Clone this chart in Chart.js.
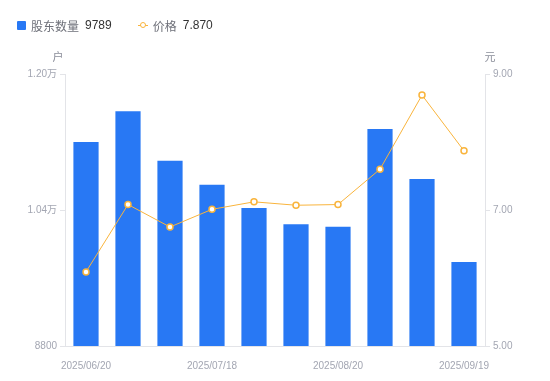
<!DOCTYPE html>
<html>
<head>
<meta charset="utf-8">
<script src="https://cdn.jsdelivr.net/npm/chart.js@4.4.1/dist/chart.umd.min.js"></script>
<style>
  html, body { margin: 0; padding: 0; background: #ffffff; }
  #wrap { position: relative; width: 550px; height: 381px; }
  #legend { position: absolute; left: 17px; top: 16px; height: 18px; display: flex; align-items: center;
            font-family: "Liberation Sans", "Noto Sans CJK SC", sans-serif; font-size: 12px; }
  .item { display: flex; align-items: center; margin-right: 26px; }
  .sq { width: 9px; height: 9px; border-radius: 1px; margin-right: 5px; }
  .name { color: #6e7079; font-family: "Noto Sans CJK SC", sans-serif; margin-right: 6px; }
  .val { color: #333333; }
  .lineicon { position: relative; width: 10px; height: 9px; margin-right: 5px; }
  .lineicon .ln { position: absolute; left: 0; right: 0; top: 4px; height: 1px; }
  .lineicon .pt { position: absolute; left: 2px; top: 1.5px; width: 4px; height: 4px; border-radius: 50%; background: #fff; border-width: 1.5px; border-style: solid; }
</style>
</head>
<body>
<div id="wrap">
  <canvas id="c" width="550" height="381"></canvas>
  <div id="legend"></div>
</div>
<script>
// ---- data ----
const categories = ['2025/06/20','2025/06/30','2025/07/10','2025/07/18','2025/07/31','2025/08/10','2025/08/20','2025/08/29','2025/09/10','2025/09/19'];
const holders = [11200, 11561, 10980, 10698, 10423, 10232, 10204, 11353, 10765, 9789];
const prices = [6.09, 7.08, 6.75, 7.01, 7.12, 7.07, 7.08, 7.60, 8.69, 7.87];
const leftTicks = [8800, 10400, 12000];
const rightTicks = [5, 7, 9];
const shownDateIdx = [0, 3, 6, 9];
const seriesNames = ['股东数量', '价格'];
const axisUnits = ['户', '元'];

const BLUE = '#2878f4';
const ORANGE = '#f9b43c';
const TICK = '#a3a6b2';
const AXIS = '#e3e4e8';
const FONT = '"Liberation Sans", "Noto Sans CJK SC", sans-serif';

// legend (HTML)
const lg = document.getElementById('legend');
lg.innerHTML =
  '<div class="item"><div class="sq" style="background:' + BLUE + '"></div><span class="name">' + seriesNames[0] +
  '</span><span class="val">' + holders[holders.length - 1] + '</span></div>' +
  '<div class="item"><div class="lineicon"><div class="ln" style="background:' + ORANGE + '"></div><div class="pt" style="border-color:' + ORANGE +
  '"></div></div><span class="name">' + seriesNames[1] + '</span><span class="val">' + prices[prices.length - 1].toFixed(3) + '</span></div>';

const unitPlugin = {
  id: 'units',
  afterDraw(chart) {
    const ctx = chart.ctx;
    const a = chart.chartArea;
    ctx.save();
    ctx.fillStyle = '#8a8d99';
    ctx.font = '11px "Noto Sans CJK SC", sans-serif';
    ctx.textAlign = 'center';
    ctx.textBaseline = 'middle';
    ctx.fillText(axisUnits[0], a.left - 7, a.top - 17);
    ctx.fillText(axisUnits[1], a.right + 5, a.top - 17);
    ctx.restore();
  }
};

new Chart(document.getElementById('c'), {
  data: {
    labels: categories,
    datasets: [
      {
        type: 'line', label: seriesNames[1], data: prices, yAxisID: 'y1', order: 1,
        borderColor: ORANGE, borderWidth: 1, backgroundColor: '#ffffff',
        pointRadius: 3, pointBorderWidth: 1.5, pointBorderColor: ORANGE, pointBackgroundColor: '#ffffff',
        tension: 0
      },
      {
        type: 'bar', label: seriesNames[0], data: holders, yAxisID: 'y', order: 2,
        backgroundColor: BLUE, borderWidth: 0,
        barPercentage: 0.6, categoryPercentage: 1.0
      }
    ]
  },
  options: {
    responsive: false,
    animation: false,
    layout: { padding: { top: 74, left: 0, right: 0, bottom: 0 } },
    plugins: { legend: { display: false }, tooltip: { enabled: false } },
    scales: {
      x: {
        grid: { display: false },
        border: { display: true, color: AXIS, width: 1 },
        ticks: {
          autoSkip: false, maxRotation: 0, padding: 6, color: TICK,
          font: { family: FONT, size: 10 },
          callback: (v, i) => shownDateIdx.includes(i) ? categories[i] : ''
        },
        afterFit: s => { s.height = 35; }
      },
      y: {
        position: 'left', min: leftTicks[0], max: leftTicks[leftTicks.length - 1],
        afterBuildTicks: s => { s.ticks = leftTicks.map(v => ({ value: v })); },
        grid: { drawOnChartArea: false, tickLength: 5, color: AXIS },
        border: { display: true, color: AXIS },
        ticks: {
          padding: 3, color: TICK, font: { family: FONT, size: 10 },
          callback: v => v >= 10000 ? (v / 10000).toFixed(2) + '万' : String(v)
        },
        afterFit: s => { s.width = 65; }
      },
      y1: {
        position: 'right', min: rightTicks[0], max: rightTicks[rightTicks.length - 1],
        afterBuildTicks: s => { s.ticks = rightTicks.map(v => ({ value: v })); },
        grid: { drawOnChartArea: false, tickLength: 5, color: AXIS },
        border: { display: true, color: AXIS },
        ticks: {
          padding: 3, color: TICK, font: { family: FONT, size: 10 },
          callback: v => Number(v).toFixed(2)
        },
        afterFit: s => { s.width = 65; }
      }
    }
  },
  plugins: [unitPlugin]
});
</script>
</body>
</html>
